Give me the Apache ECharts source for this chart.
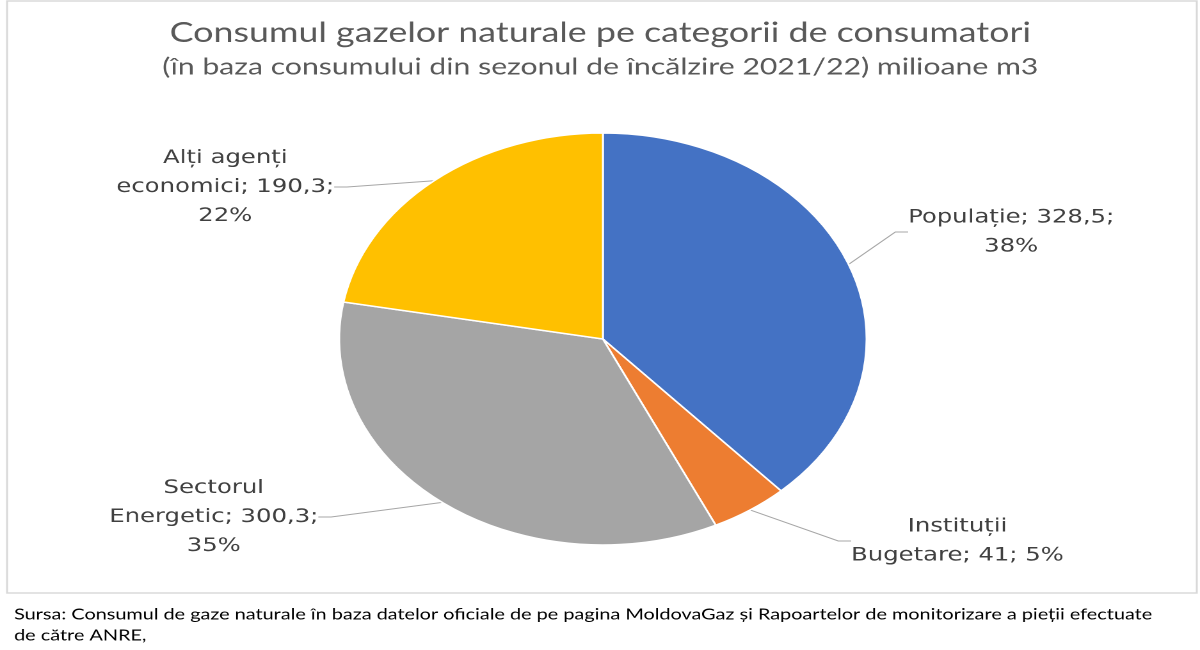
<!DOCTYPE html>
<html>
<head>
<meta charset="utf-8">
<script src="https://cdn.jsdelivr.net/npm/echarts@6/dist/echarts.min.js"></script>
<style>
  html, body { margin: 0; padding: 0; background: #fff; overflow: hidden; }
  /* the source image is stretched sideways, so the whole chart is too */
  #main { width: 937.5px; height: 650px; transform: scaleX(1.28); transform-origin: 0 0; }
</style>
</head>
<body>
<div id="main"></div>
<script>
// date: consum pe categorii, milioane m3
var categories = ['Populație', 'Instituții Bugetare', 'Sectorul Energetic', 'Alți agenți economici'];
var values = [328.5, 41, 300.3, 190.3];
var colors = ['#4472C4', '#ED7D31', '#A5A5A5', '#FFC000'];

// unde stau etichetele (centrul blocului de text)
var labelPos = [[790, 232], [748, 541], [167, 517], [176, 187]];

function wrap(str, max) {
  var words = str.split(' ');
  var lines = [];
  var cur = '';
  words.forEach(function (w) {
    if (cur && (cur + ' ' + w).length > max) {
      lines.push(cur);
      cur = w;
    } else {
      cur = cur ? cur + ' ' + w : w;
    }
  });
  if (cur) lines.push(cur);
  return lines.join('\n');
}

var chart = echarts.init(document.getElementById('main'), null, { devicePixelRatio: 2 });

var option = {
  animation: false,
  title: {
    text: 'Consumul gazelor naturale pe categorii de consumatori',
    subtext: '(în baza consumului din sezonul de încălzire 2021/22) milioane m3',
    left: 'center',
    top: 11,
    itemGap: 2,
    textStyle: {
      fontFamily: 'Lato',
      fontWeight: 'normal',
      fontSize: 28,
      lineHeight: 34,
      color: '#595959'
    },
    subtextStyle: {
      fontFamily: 'Lato',
      fontSize: 23.6,
      lineHeight: 30,
      color: '#595959'
    }
  },
  graphic: [
    {
      type: 'rect',
      shape: { x: 5.5, y: 1, width: 929.5, height: 592 },
      style: { fill: 'none', stroke: '#d9d9d9', lineWidth: 1.5 },
      silent: true
    },
    {
      type: 'text',
      left: 11,
      top: 604,
      style: {
        text: 'Sursa: Consumul de gaze naturale în baza datelor oficiale de pe pagina MoldovaGaz și Rapoartelor de monitorizare a pieții efectuate\nde către ANRE,',
        font: '15.5px Lato',
        lineHeight: 21,
        fill: '#000'
      }
    }
  ],
  series: [{
    type: 'pie',
    center: [471, 339],
    radius: 206,
    startAngle: 90,
    clockwise: true,
    color: colors,
    itemStyle: { borderColor: '#fff', borderWidth: 1.5 },
    label: {
      show: true,
      position: 'outside',
      fontFamily: 'DejaVu Sans',
      fontSize: 19,
      lineHeight: 29,
      color: '#404040',
      align: 'center',
      formatter: function (p) {
        var v = String(p.value).replace('.', ',');
        return wrap(p.name + '; ' + v + '; ' + Math.round(p.percent) + '%', 17);
      }
    },
    labelLine: {
      show: true,
      length: 20,
      length2: 10,
      lineStyle: { color: '#a6a6a6', width: 1 }
    },
    labelLayout: function (params) {
      var pos = labelPos[params.dataIndex];
      return { x: pos[0], y: pos[1], align: 'center', verticalAlign: 'middle' };
    },
    emphasis: { disabled: true },
    data: categories.map(function (c, i) {
      return { name: c, value: values[i] };
    })
  }]
};

chart.setOption(option);
</script>
</body>
</html>
